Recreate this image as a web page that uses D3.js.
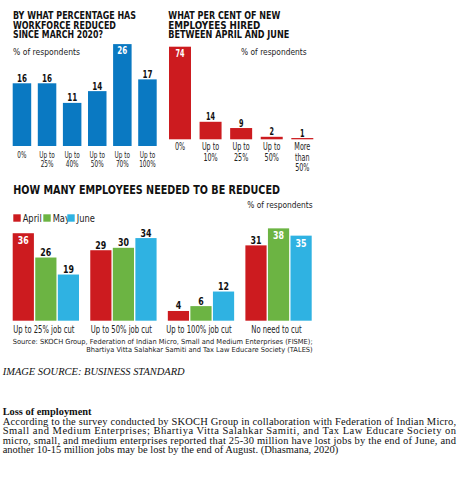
<!doctype html>
<html>
<head>
<meta charset="UTF-8">
<title>Workforce reduction survey</title>
<script src="https://cdnjs.cloudflare.com/ajax/libs/d3/7.8.5/d3.min.js"></script>
<style>
	html, body { margin: 0; padding: 0; background: #fff; }
	svg { display: block; }
</style>
</head>
<body>
<svg id="chart" width="460" height="477"></svg>
<script>
// ---- data ----
const reducedCats = [['0%'], ['Up to', '25%'], ['Up to', '40%'], ['Up to', '50%'], ['Up to', '70%'], ['Up to', '100%']];
const reducedVals = [16, 16, 11, 14, 26, 17];

const hiredCats = [['0%'], ['Up to', '10%'], ['Up to', '25%'], ['Up to', '50%'], ['More', 'than', '50%']];
const hiredVals = [74, 14, 9, 2, 1];

const cutGroups = ['Up to 25% job cut', 'Up to 50% job cut', 'Up to 100% job cut', 'No need to cut'];
const months = ['April', 'May', 'June'];
const aprilVals = [36, 29, 4, 31];
const mayVals = [26, 30, 6, 38];
const juneVals = [19, 34, 12, 35];

const title1 = ['BY WHAT PERCENTAGE HAS', 'WORKFORCE REDUCED', 'SINCE MARCH 2020?'];
const title2 = ['WHAT PER CENT OF NEW', 'EMPLOYEES HIRED', 'BETWEEN APRIL AND JUNE'];
const title3 = 'HOW MANY EMPLOYEES NEEDED TO BE REDUCED';
const unitLabel = '% of respondents';
const sourceLines = ['Source: SKOCH Group, Federation of Indian Micro, Small and Medium Enterprises (FISME);',
                     'Bhartiya Vitta Salahkar Samiti and Tax Law Educare Society (TALES)'];
const imageSource = 'IMAGE SOURCE: BUSINESS STANDARD';
const heading = 'Loss of employment';
const bodyLines = [
	'According to the survey conducted by SKOCH Group in collaboration with Federation of Indian Micro,',
	'Small and Medium Enterprises; Bhartiya Vitta Salahkar Samiti, and Tax Law Educare Society on',
	'micro, small, and medium enterprises reported that 25-30 million have lost jobs by the end of June, and',
	'another 10-15 million jobs may be lost by the end of August. (Dhasmana, 2020)'
];

// ---- setup ----
const SANS = "'Liberation Sans Narrow', 'DejaVu Sans Condensed', 'Noto Sans', sans-serif";
const SERIF = "'Liberation Serif', 'DejaVu Serif', serif";
const BLUE = '#0a79c2', RED = '#cc1b1f', GREEN = '#6cb443', LBLUE = '#2fb2e2';
const monthColor = d3.scaleOrdinal().domain(months).range([RED, GREEN, LBLUE]);

const svg = d3.select('#chart');
svg.append('rect').attr('width', 460).attr('height', 477).attr('fill', '#fff');

// The newspaper face is a very narrow one. Measure a sample word in the font we
// have, then squeeze every label of that kind by the same factor.
function squeezeFor(sample, size, weight, target) {
	const t = svg.append('text').attr('font-family', SANS).attr('font-size', size)
		.attr('font-weight', weight).text(sample);
	const w = t.node().getComputedTextLength();
	t.remove();
	return target / w;
}
function condense(sel, f) {
	sel.each(function() {
		const w = this.getComputedTextLength();
		d3.select(this).attr('textLength', w * f).attr('lengthAdjust', 'spacingAndGlyphs');
	});
}

function titleLines(lines, x, y0, widths) {
	lines.forEach(function(t, i) {
		svg.append('text')
			.attr('x', x).attr('y', y0 + i * 9.3)
			.attr('font-family', SANS).attr('font-weight', 'bold').attr('font-size', 9.6)
			.attr('textLength', widths[i]).attr('lengthAdjust', 'spacingAndGlyphs')
			.attr('fill', '#111').text(t);
	});
}

function unitText(x, y, w) {
	svg.append('text').attr('x', x).attr('y', y)
		.attr('font-family', SANS).attr('font-size', 9)
		.attr('textLength', w).attr('lengthAdjust', 'spacingAndGlyphs')
		.attr('fill', '#222').text(unitLabel);
}

// simple one-series bar chart
function singleBars(cats, vals, color, xr, yr, pad, opt) {
	const x = d3.scaleBand().domain(d3.range(vals.length)).range(xr).paddingInner(pad).paddingOuter(0);
	const y = d3.scaleLinear().domain([0, d3.max(vals)]).range(yr);
	const maxV = d3.max(vals);
	const g = svg.append('g');
	g.selectAll('rect').data(vals).join('rect')
		.attr('x', (d, i) => x(i)).attr('width', x.bandwidth())
		.attr('y', d => y(d)).attr('height', d => y(0) - y(d))
		.attr('fill', color);
	const fv = squeezeFor('16', 10.5, 'bold', opt.valW);
	g.selectAll('text.val').data(vals).join('text')
		.attr('class', 'val')
		.attr('x', (d, i) => x(i) + x.bandwidth() / 2)
		.attr('y', d => d >= 0.9 * maxV ? y(d) + 10 : y(d) - 1.5)
		.attr('text-anchor', 'middle')
		.attr('font-family', SANS).attr('font-weight', 'bold').attr('font-size', 10.5)
		.attr('fill', d => d >= 0.9 * maxV ? '#fff' : '#111')
		.text(d => d)
		.call(condense, fv);
	// category labels, may have several lines
	const fc = squeezeFor('Up to', opt.size, 'normal', opt.upToW);
	cats.forEach(function(lines, i) {
		lines.forEach(function(t, j) {
			g.append('text')
				.attr('x', x(i) + x.bandwidth() / 2)
				.attr('y', y(0) + opt.first + j * opt.step)
				.attr('text-anchor', 'middle')
				.attr('font-family', SANS).attr('font-size', opt.size)
				.attr('fill', '#222').text(t)
				.call(condense, fc);
		});
	});
}

// ---- chart 1 ----
titleLines(title1, 13, 19.2, [123, 103, 90]);
unitText(13, 55, 67);
singleBars(reducedCats, reducedVals, BLUE, [12.7, 156.7], [146, 44.1], 0.263,
	{ size: 9, first: 11.8, step: 9.3, upToW: 15.5, valW: 10 });

// ---- chart 2 ----
titleLines(title2, 168.3, 19.2, [112, 92, 121]);
unitText(241, 55, 65.7);
singleBars(hiredCats, hiredVals, RED, [169, 313.3], [139.3, 46.7], 0.281,
	{ size: 9.6, first: 10.8, step: 10.4, upToW: 17.3, valW: 9 });

// ---- chart 3 ----
svg.append('text').attr('x', 13.3).attr('y', 194)
	.attr('font-family', SANS).attr('font-weight', 'bold').attr('font-size', 12.3)
	.attr('textLength', 266.7).attr('lengthAdjust', 'spacingAndGlyphs')
	.attr('fill', '#111').text(title3);
unitText(247.3, 207.5, 65.4);

// legend
const legendX = [13.3, 43.3, 67.3];
const fl = squeezeFor('April', 10, 'normal', 19);
const legend = svg.append('g');
months.forEach(function(m, i) {
	legend.append('rect').attr('x', legendX[i]).attr('y', 214.3).attr('width', 7.4).attr('height', 7.4)
		.attr('fill', monthColor(m));
	legend.append('text').attr('x', legendX[i] + 9.4).attr('y', 221.8)
		.attr('font-family', SANS).attr('font-size', 10)
		.attr('fill', '#222').text(m)
		.call(condense, fl);
});

const seriesVals = [aprilVals, mayVals, juneVals];
const x0 = d3.scaleBand().domain(cutGroups).range([12.7, 311.7]).paddingInner(0.145).paddingOuter(0);
const x1 = d3.scaleBand().domain(months).range([0, x0.bandwidth()]).paddingInner(0.06).paddingOuter(0);
const allVals = seriesVals.flat();
const cutMax = d3.max(allVals);
const y3 = d3.scaleLinear().domain([0, cutMax]).range([320.7, 320.7 - cutMax * 2.43]);

const groupData = cutGroups.map((c, gi) => ({
	group: c,
	bars: months.map((m, mi) => ({ month: m, value: seriesVals[mi][gi] }))
}));

const groups = svg.append('g').selectAll('g').data(groupData).join('g')
	.attr('transform', d => 'translate(' + x0(d.group) + ',0)');

groups.selectAll('rect').data(d => d.bars).join('rect')
	.attr('x', d => x1(d.month)).attr('width', x1.bandwidth())
	.attr('y', d => y3(d.value)).attr('height', d => y3(0) - y3(d.value))
	.attr('fill', d => monthColor(d.month));

const fv3 = squeezeFor('36', 11, 'bold', 11);
groups.selectAll('text.val').data(d => d.bars).join('text')
	.attr('class', 'val')
	.attr('x', d => x1(d.month) + x1.bandwidth() / 2)
	.attr('y', d => d.value >= 0.9 * cutMax ? y3(d.value) + 11 : y3(d.value) - 1.5)
	.attr('text-anchor', 'middle')
	.attr('font-family', SANS).attr('font-weight', 'bold').attr('font-size', 11)
	.attr('fill', d => d.value >= 0.9 * cutMax ? '#fff' : '#111')
	.text(d => d.value)
	.call(condense, fv3);

const fg = squeezeFor(cutGroups[0], 9.8, 'normal', 61.3);
groups.append('text')
	.attr('x', x0.bandwidth() / 2 - 2)
	.attr('y', 332.5)
	.attr('text-anchor', 'middle')
	.attr('font-family', SANS).attr('font-size', 9.8)
	.attr('fill', '#222').text(d => d.group)
	.call(condense, fg);

// source
svg.append('text').attr('x', 12.7).attr('y', 344.2)
	.attr('font-family', SANS).attr('font-size', 7)
	.attr('textLength', 300).attr('lengthAdjust', 'spacingAndGlyphs')
	.attr('fill', '#222').text(sourceLines[0]);
svg.append('text').attr('x', 312.7).attr('y', 351.6).attr('text-anchor', 'end')
	.attr('font-family', SANS).attr('font-size', 7)
	.attr('textLength', 226.5).attr('lengthAdjust', 'spacingAndGlyphs')
	.attr('fill', '#222').text(sourceLines[1]);

// ---- text below the picture ----
svg.append('text').attr('x', 2.7).attr('y', 375)
	.attr('font-family', SERIF).attr('font-style', 'italic').attr('font-size', 10)
	.attr('textLength', 182).attr('lengthAdjust', 'spacingAndGlyphs')
	.attr('fill', '#111').text(imageSource);
svg.append('text').attr('x', 2.7).attr('y', 415)
	.attr('font-family', SERIF).attr('font-weight', 'bold').attr('font-size', 10.4)
	.attr('fill', '#111').text(heading);
bodyLines.forEach(function(t, i) {
	const last = i === bodyLines.length - 1;
	const line = svg.append('text').attr('x', 2.7).attr('y', 424.5 + i * 9.65)
		.attr('font-family', SERIF).attr('font-size', 10.5)
		.attr('fill', '#111').text(t);
	if (!last) line.attr('textLength', 453.3).attr('lengthAdjust', 'spacing');
});
</script>
</body>
</html>
